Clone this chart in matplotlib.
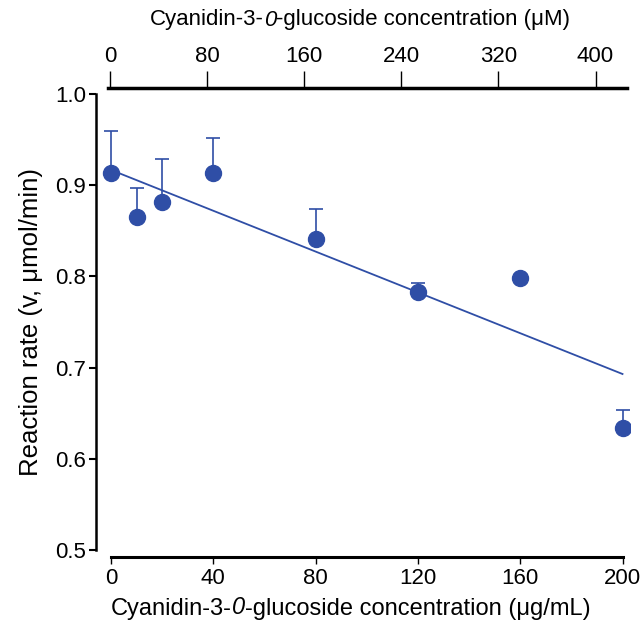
import numpy as np
import matplotlib
matplotlib.use("Agg")
import matplotlib.pyplot as plt
from matplotlib.offsetbox import TextArea, HPacker, AnchoredOffsetbox

plt.rcParams['font.family'] = ['Liberation Sans', 'DejaVu Sans']

# data (concentration in ug/mL, rate in umol/min)
conc = [0, 10, 20, 40, 80, 120, 160, 200]
rate = [0.913, 0.865, 0.882, 0.913, 0.841, 0.783, 0.798, 0.634]
rate_err = [0.046, 0.032, 0.047, 0.039, 0.033, 0.010, 0.0, 0.020]

x_ticks = [0, 40, 80, 120, 160, 200]
y_ticks = [0.5, 0.6, 0.7, 0.8, 0.9, 1.0]
um_ticks = [0, 80, 160, 240, 320, 400]

blue = '#2F4EA6'
W, H = 641, 624

fig = plt.figure(figsize=(W / 100, H / 100), dpi=100)
# axes box in pixels: left 96, right 630, top 88, bottom 557
ax = fig.add_axes([96 / W, 1 - 557 / H, (630 - 96) / W, (557 - 88) / H])

# x: 0 -> px 111, 200 -> px 622.5
pxu = (622.5 - 111) / 200
ax.set_xlim(-(111 - 96) / pxu, (630 - 111) / pxu)
# y: 0.5 -> px 550, 1.0 -> px 94
pyu = (550 - 94) / 0.5
ax.set_ylim(0.5 - (557 - 550) / pyu, 1.0 + (94 - 88) / pyu)

# regression line
slope, icpt = np.polyfit(conc, rate, 1)
xs = np.array([conc[0], conc[-1]])
ax.plot(xs, slope * xs + icpt, color=blue, lw=1.3, zorder=2)

zeros = [0] * len(conc)
ax.errorbar(conc, rate, yerr=[zeros, rate_err], fmt='none', ecolor=blue,
            elinewidth=1.2, capsize=5, capthick=1.2, zorder=2)
ax.plot(conc, rate, 'o', color=blue, ms=11.5, mec=blue, zorder=3)

ax.spines['right'].set_visible(False)
ax.spines['top'].set_visible(False)
ax.spines['left'].set_bounds(0.5, 1.0)
ax.spines['bottom'].set_bounds(0, 200)
ax.spines['left'].set_linewidth(1.8)
ax.spines['bottom'].set_linewidth(2.2)

ax.set_xticks(x_ticks)
ax.set_yticks(y_ticks)
ax.set_yticklabels([f'{v:.1f}' for v in y_ticks])
ax.tick_params(axis='x', direction='out', length=5, width=1, labelsize=16, pad=3)
ax.tick_params(axis='y', direction='out', length=5, width=1.5, labelsize=16, pad=2)
ax.set_ylabel('Reaction rate (v, μmol/min)', fontsize=18.5, labelpad=9)

# top axis in uM: 0 -> px 110, 400 -> px 595.5
top = ax.twiny()
pxm = (595.5 - 110) / 400
top.set_xlim(-(110 - 96) / pxm, (630 - 110) / pxm)
for s in ['left', 'right', 'bottom']:
    top.spines[s].set_visible(False)
top.spines['top'].set_bounds(-1.5, (627 - 110) / pxm)
top.spines['top'].set_linewidth(2.5)
top.set_xticks(um_ticks)
top.tick_params(axis='x', direction='out', length=12, width=1, labelsize=16, pad=3)


def mixed_label(unit, size, cx, cy):
    # "Cyanidin-3-0-glucoside ..." with the 0 in italics
    parts = [TextArea('Cyanidin-3-', textprops=dict(fontsize=size)),
             TextArea('0', textprops=dict(fontsize=size, style='italic')),
             TextArea('-glucoside concentration (' + unit + ')', textprops=dict(fontsize=size))]
    pack = HPacker(children=parts, pad=0, sep=0, align='baseline')
    box = AnchoredOffsetbox(loc='center', child=pack, pad=0, borderpad=0, frameon=False,
                            bbox_to_anchor=(cx / W, 1 - cy / H), bbox_transform=fig.transFigure)
    fig.add_artist(box)


mixed_label('μg/mL', 17, 350.5, 608)
mixed_label('μM', 16, 360, 20)

fig.savefig('out.png', dpi=100)
